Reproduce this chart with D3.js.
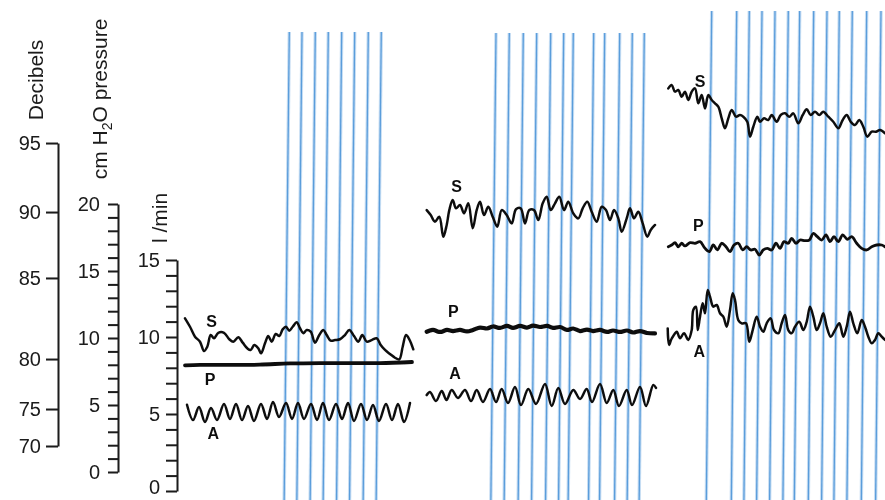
<!DOCTYPE html>
<html>
<head>
<meta charset="utf-8">
<script src="https://cdn.jsdelivr.net/npm/d3@7"></script>
<style>
  body { margin: 0; background: #fff; }
  svg { display: block; }
</style>
</head>
<body>
<svg id="chart" width="885" height="500"></svg>
<script>
// ---- Axis calibration ----
const dbTicks = [70, 75, 80, 85, 90, 95];
// pressure (cm H2O) equivalent of each decibel tick on the shared scale
const dbPressureEquiv = [1.94, 4.70, 8.43, 14.48, 19.40, 24.55];
const pressureTicks = d3.range(0, 21);
const flowTicks = d3.range(0, 16);

// ---- Recordings: [time (s), value]; S in dB, P in cm H2O, A in l/min ----
const s1 = [[0,82.51],[0.5,81.99],[1,81.38],[1.5,81.07],[1.9,80.49],[2.23,80.76],[2.57,81.48],[2.9,81.28],[3.33,81.62],[3.9,81.62],[4.43,81.22],[4.83,81.07],[5.33,81.34],[5.77,81.01],[6.23,80.66],[6.57,80.56],[6.93,80.86],[7.33,80.66],[7.6,80.35],[8,80.97],[8.33,81.42],[8.67,81.07],[9.07,81.54],[9.43,81.42],[9.77,81.83],[10.1,81.99],[10.43,81.75],[10.77,81.99],[11.17,82.27],[11.5,81.9],[11.83,81.59],[12.17,81.79],[12.57,81.69],[13,81.01],[13.43,81.48],[13.83,81.79],[14.17,81.48],[14.57,81.13],[15,81.17],[15.5,81.22],[16,81.48],[16.43,81.79],[16.9,81.42],[17.33,81.07],[17.73,81.48],[18.17,81.07],[18.67,81.17],[19.17,81.28],[19.57,80.86],[20,80.56],[20.5,80.31],[21,80.08],[21.43,79.97],[21.77,80.76],[22.1,81.48],[22.43,81.22],[22.83,80.6]];
const p1 = [[0,7.95],[1.5,7.99],[4.5,7.99],[7.5,8.02],[10.5,8.1],[13.5,8.13],[16.5,8.13],[19.5,8.13],[22.7,8.21]];
const a1 = [[0.2,5.6],[0.8,4.61],[1.4,5.45],[2.0,4.48],[2.6,5.39],[3.2,4.61],[3.9,5.65],[4.5,4.68],[5.1,5.65],[5.7,4.61],[6.3,5.52],[6.9,4.55],[7.6,5.65],[8.2,4.68],[8.8,5.78],[9.4,4.81],[10.1,5.71],[10.7,4.68],[11.3,5.71],[11.9,4.68],[12.6,5.65],[13.2,4.61],[13.8,5.71],[14.4,4.61],[15.1,5.65],[15.7,4.68],[16.3,5.71],[16.9,4.55],[17.6,5.65],[18.2,4.61],[18.8,5.58],[19.4,4.55],[20.1,5.65],[20.7,4.61],[21.3,5.65],[21.9,4.48],[22.5,5.71]];

const s2 = [[0.17,90.14],[0.57,89.77],[1,89.27],[1.43,89.64],[1.83,88.13],[2.17,89.02],[2.43,90.14],[2.77,90.87],[3.1,90.27],[3.5,90.51],[3.9,89.9],[4.33,90.63],[4.77,88.77],[5.17,90.14],[5.5,90.75],[5.9,89.77],[6.33,90.38],[6.77,89.64],[7.23,88.89],[7.67,90.14],[8.17,89.77],[8.67,89.14],[9.1,90.2],[9.57,90.27],[10,89.14],[10.43,90.14],[10.9,90.14],[11.33,89.39],[11.77,90.63],[12.17,91.11],[12.57,90.14],[13,90.63],[13.43,91.11],[13.9,90.14],[14.33,90.75],[14.83,89.9],[15.33,89.52],[15.77,90.27],[16.23,90.75],[16.67,90.02],[17.17,89.27],[17.67,90.38],[18.1,90.14],[18.5,89.39],[18.9,90.14],[19.33,89.52],[19.67,88.51],[20.17,89.52],[20.5,90.27],[20.9,89.52],[21.33,90.02],[21.77,89.14],[22.23,88.13],[22.57,88.64],[23,89.02]];
const p2 = [[0.17,10.47],[0.8,10.6],[1.5,10.45],[2.2,10.6],[2.8,10.52],[3.5,10.6],[4.2,10.49],[4.8,10.6],[5.5,10.78],[6.2,10.71],[6.8,10.86],[7.5,10.75],[8.2,10.9],[8.8,10.75],[9.5,10.9],[10.2,10.78],[10.8,10.93],[11.5,10.82],[12.2,10.9],[12.8,10.75],[13.5,10.82],[14.2,10.6],[14.8,10.71],[15.5,10.52],[16.2,10.63],[16.8,10.52],[17.5,10.6],[18.2,10.45],[18.8,10.56],[19.5,10.45],[20.2,10.56],[20.8,10.41],[21.5,10.52],[22.2,10.37],[23,10.34]];
const a2 = [[0.17,6.23],[0.5,6.43],[1.1,5.84],[1.67,6.49],[2.15,5.91],[2.67,6.56],[3.3,6.04],[4.0,6.56],[4.6,5.84],[5.17,6.56],[5.8,5.78],[6.5,6.62],[7.1,5.78],[7.67,6.62],[8.3,5.71],[9.0,6.75],[9.6,5.58],[10.33,6.62],[11.1,5.65],[12.0,6.95],[12.67,5.52],[13.33,6.69],[14.0,5.65],[14.83,6.56],[15.5,5.97],[16.17,6.62],[16.7,5.78],[17.5,6.95],[18.17,5.71],[18.83,6.56],[19.4,5.52],[20.17,6.56],[20.7,5.58],[21.5,6.75],[22.1,5.52],[22.83,6.88],[23.1,6.69]];

const s3 = [[0.03,98.96],[0.37,99.2],[0.7,98.72],[1.03,98.84],[1.37,98.36],[1.7,98.72],[2.03,98.12],[2.37,98.72],[2.7,98.96],[3.03,97.88],[3.37,98.48],[3.7,97.51],[4.03,98.48],[4.37,98.12],[4.7,97.88],[5.03,97.63],[5.37,96.79],[5.7,96.07],[6.03,96.79],[6.37,97.39],[6.8,96.91],[7.2,97.03],[7.53,96.91],[7.93,96.54],[8.2,95.46],[8.53,96.18],[8.93,96.91],[9.2,96.54],[9.6,96.79],[10.03,96.67],[10.37,97.03],[10.87,96.54],[11.27,97.03],[11.7,97.15],[12.13,96.91],[12.53,97.15],[13.03,96.43],[13.47,97.03],[13.87,97.44],[14.27,97.03],[14.7,97.27],[15.13,97.03],[15.53,97.27],[16.03,96.91],[16.53,96.54],[17.03,96.07],[17.47,96.67],[17.87,97.03],[18.27,96.54],[18.7,96.3],[19.13,96.67],[19.53,96.18],[19.93,95.46],[20.37,95.82],[20.8,95.82],[21.2,95.94],[21.7,95.7]];
const p3 = [[0.03,16.81],[0.37,16.94],[0.7,17.11],[1.03,16.81],[1.37,17.07],[1.7,16.87],[2.2,17.11],[2.7,17.07],[3.2,17.19],[3.7,16.69],[4.13,16.44],[4.53,16.94],[4.93,16.57],[5.37,17.07],[5.8,16.81],[6.2,16.44],[6.6,16.94],[7.03,17.07],[7.47,16.57],[7.87,16.81],[8.27,16.57],[8.7,16.62],[9.13,16.19],[9.53,16.57],[9.93,16.69],[10.37,16.57],[10.8,17.07],[11.2,16.69],[11.6,17.19],[12.03,17.07],[12.37,17.44],[12.8,17.07],[13.2,17.31],[13.7,17.26],[14.13,17.31],[14.53,17.81],[14.93,17.56],[15.37,17.31],[15.8,17.69],[16.2,17.19],[16.6,17.56],[17.03,17.19],[17.47,17.69],[17.93,17.37],[18.37,17.56],[18.87,17.07],[19.37,16.69],[19.87,16.57],[20.37,16.81],[20.87,16.94],[21.37,16.94],[21.7,16.81]];
const a3 = [[-0.03,10.56],[0.03,9.81],[0.13,9.48],[0.3,9.81],[0.53,10.06],[0.87,10.34],[1.2,9.92],[1.6,10.24],[2.03,9.81],[2.37,10.45],[2.53,11.75],[2.8,11.97],[2.97,10.45],[3.2,11.32],[3.47,12.19],[3.7,11.54],[3.97,13.05],[4.2,12.62],[4.53,11.97],[4.87,12.08],[5.2,11.54],[5.53,11.32],[5.87,10.67],[6.2,11.75],[6.47,12.84],[6.7,12.4],[7.03,11.1],[7.37,10.89],[7.8,10.89],[8.13,9.69],[8.47,10.45],[8.87,11.32],[9.2,10.67],[9.53,10.34],[9.87,10.89],[10.27,11.21],[10.6,10.45],[11.03,10.24],[11.37,10.89],[11.7,11.43],[12.03,10.45],[12.37,10.24],[12.7,10.67],[13.13,10.99],[13.53,10.45],[13.87,10.99],[14.2,11.97],[14.53,11.32],[14.87,10.45],[15.2,10.89],[15.53,11.54],[15.87,10.67],[16.27,10.02],[16.7,10.45],[17.13,10.89],[17.53,10.02],[17.87,10.67],[18.2,11.64],[18.53,10.89],[18.93,10.24],[19.37,11.1],[19.7,10.67],[20.03,10.02],[20.37,9.59],[20.7,9.81],[21.03,10.24],[21.37,10.02],[21.7,9.81]];

// breath markers (time, s) for each recording
const marks1 = [10.43, 11.7, 13.03, 14.33, 15.67, 16.97, 18.33, 19.63];
const marks2 = [7.1, 8.43, 9.83, 11.17, 12.57, 13.87, 14.83, 16.87, 17.97, 19.47, 20.73, 21.93];
const marks3 = [4.37, 6.87, 8.13, 9.4, 10.7, 12.03, 13.17, 14.57, 15.9, 17.13, 18.43, 19.87, 21.3];

// trace labels: [text, time, value, unit]
const labels1 = [["S", 2.67, 82.3, "db"], ["P", 2.5, 6.87, "p"], ["A", 2.83, 3.75, "f"]];
const labels2 = [["S", 3.17, 91.83, "db"], ["P", 2.83, 11.96, "p"], ["A", 3.0, 7.64, "f"]];
const labels3 = [["S", 3.2, 99.44, "db"], ["P", 3.03, 18.43, "p"], ["A", 3.13, 9.05, "f"]];

// ---- Scales ----
const W = 885, H = 500;
const FONT = "'Liberation Sans', Arial, Helvetica, sans-serif";
const svg = d3.select("#chart");
svg.append("rect").attr("width", W).attr("height", H).attr("fill", "#fff");

const defs = svg.append("defs");
defs.append("filter").attr("id", "soft")
  .append("feGaussianBlur").attr("stdDeviation", 0.45);
defs.append("filter").attr("id", "softBlue")
  .append("feGaussianBlur").attr("stdDeviation", 0.3);

const pressure = d3.scaleLinear().domain([0, 20]).range([472, 204]);
const flow = d3.scaleLinear().domain([0, 15]).range([491, 260]);
const dbToPressure = d3.scaleLinear().domain(dbTicks).range(dbPressureEquiv);
const dbAxisScale = d3.scaleLinear().domain(dbTicks)
  .range(dbPressureEquiv.map(v => pressure(v)));
const yFor = { db: v => pressure(dbToPressure(v)), p: v => pressure(v), f: v => flow(v) };

// marker layer sits under the ink
const markLayer = svg.append("g").attr("filter", "url(#softBlue)");
const ink = svg.append("g").attr("filter", "url(#soft)");

// ---- Axes ----
function styleAxis(g, fontSize) {
  g.selectAll("path.domain").attr("stroke", "#1a1a1a").attr("stroke-width", 2);
  g.selectAll(".tick line").attr("stroke", "#1a1a1a").attr("stroke-width", 2);
  g.selectAll(".tick text").attr("fill", "#1a1a1a")
    .style("font-family", FONT).style("font-size", fontSize + "px");
}

const dbAxis = ink.append("g").attr("transform", "translate(58,0)")
  .call(d3.axisLeft(dbAxisScale).tickValues(dbTicks).tickSize(12).tickSizeOuter(0).tickPadding(5));
styleAxis(dbAxis, 20);

const pAxis = ink.append("g").attr("transform", "translate(118,0)")
  .call(d3.axisLeft(pressure).tickValues(pressureTicks).tickSize(10).tickSizeOuter(0)
    .tickPadding(8).tickFormat(d => d % 5 === 0 ? d : ""));
styleAxis(pAxis, 20);

const fAxis = ink.append("g").attr("transform", "translate(177,0)")
  .call(d3.axisLeft(flow).tickValues(flowTicks).tickSize(11).tickSizeOuter(0)
    .tickPadding(6).tickFormat(d => d % 5 === 0 ? d : ""));
styleAxis(fAxis, 20);
// lowest flow label sits against the bottom edge; lift it slightly
fAxis.selectAll(".tick text").filter(d => d === 0).attr("dy", "0.1em");

// axis titles (vertical)
function vTitle(x, y, build) {
  const t = ink.append("text")
    .attr("transform", `translate(${x},${y}) rotate(-90)`)
    .attr("text-anchor", "middle").attr("dominant-baseline", "central")
    .attr("fill", "#1a1a1a").style("font-family", FONT).style("font-size", "21px");
  build(t);
}
vTitle(35, 80, t => t.text("Decibels"));
vTitle(99, 99, t => {
  t.append("tspan").text("cm H");
  t.append("tspan").attr("baseline-shift", "sub").style("font-size", "14px").text("2");
  t.append("tspan").text("O pressure");
});
vTitle(159, 218, t => t.text("l /min"));

// ---- Recordings ----
const panels = [
  { x0: 185, top: 32, s: s1, p: p1, a: a1, marks: marks1, labels: labels1, pw: 3.8 },
  { x0: 425, top: 33, s: s2, p: p2, a: a2, marks: marks2, labels: labels2, pw: 4.2 },
  { x0: 668, top: 11, s: s3, p: p3, a: a3, marks: marks3, labels: labels3, pw: 2.8 }
];
const SLANT = -0.011;

panels.forEach(pn => {
  const x = d3.scaleLinear().domain([0, 23]).range([pn.x0, pn.x0 + 230]);

  // breath markers
  const mg = markLayer.append("g");
  const seg = t => ({ x1: x(t), y1: pn.top, x2: x(t) + SLANT * (H - pn.top), y2: H });
  const draw = (cls, color, width) => mg.selectAll("line." + cls).data(pn.marks).join("line")
    .attr("class", cls)
    .each(function (t) { const s = seg(t); d3.select(this).attr("x1", s.x1).attr("y1", s.y1).attr("x2", s.x2).attr("y2", s.y2); })
    .attr("stroke", color).attr("stroke-width", width);
  draw("halo", "#c6ddf3", 3.4);
  draw("core", "#5a9ddb", 1.3);

  const mk = yf => d3.line().x(d => x(d[0])).y(d => yf(d[1]))
    .curve(d3.curveCatmullRom.alpha(0.5));
  const g = ink.append("g").attr("fill", "none").attr("stroke", "#111")
    .attr("stroke-linejoin", "round").attr("stroke-linecap", "round");
  g.append("path").attr("d", mk(yFor.db)(pn.s)).attr("stroke-width", 2.5);
  g.append("path").attr("d", mk(yFor.p)(pn.p)).attr("stroke-width", pn.pw);
  g.append("path").attr("d", mk(yFor.f)(pn.a)).attr("stroke-width", 2.5);

  ink.append("g").selectAll("text").data(pn.labels).join("text")
    .attr("x", d => x(d[1])).attr("y", d => yFor[d[3]](d[2]))
    .attr("text-anchor", "middle").attr("dominant-baseline", "central")
    .attr("fill", "#111").style("font-family", FONT)
    .style("font-size", "16px").style("font-weight", "bold")
    .text(d => d[0]);
});
</script>
</body>
</html>
